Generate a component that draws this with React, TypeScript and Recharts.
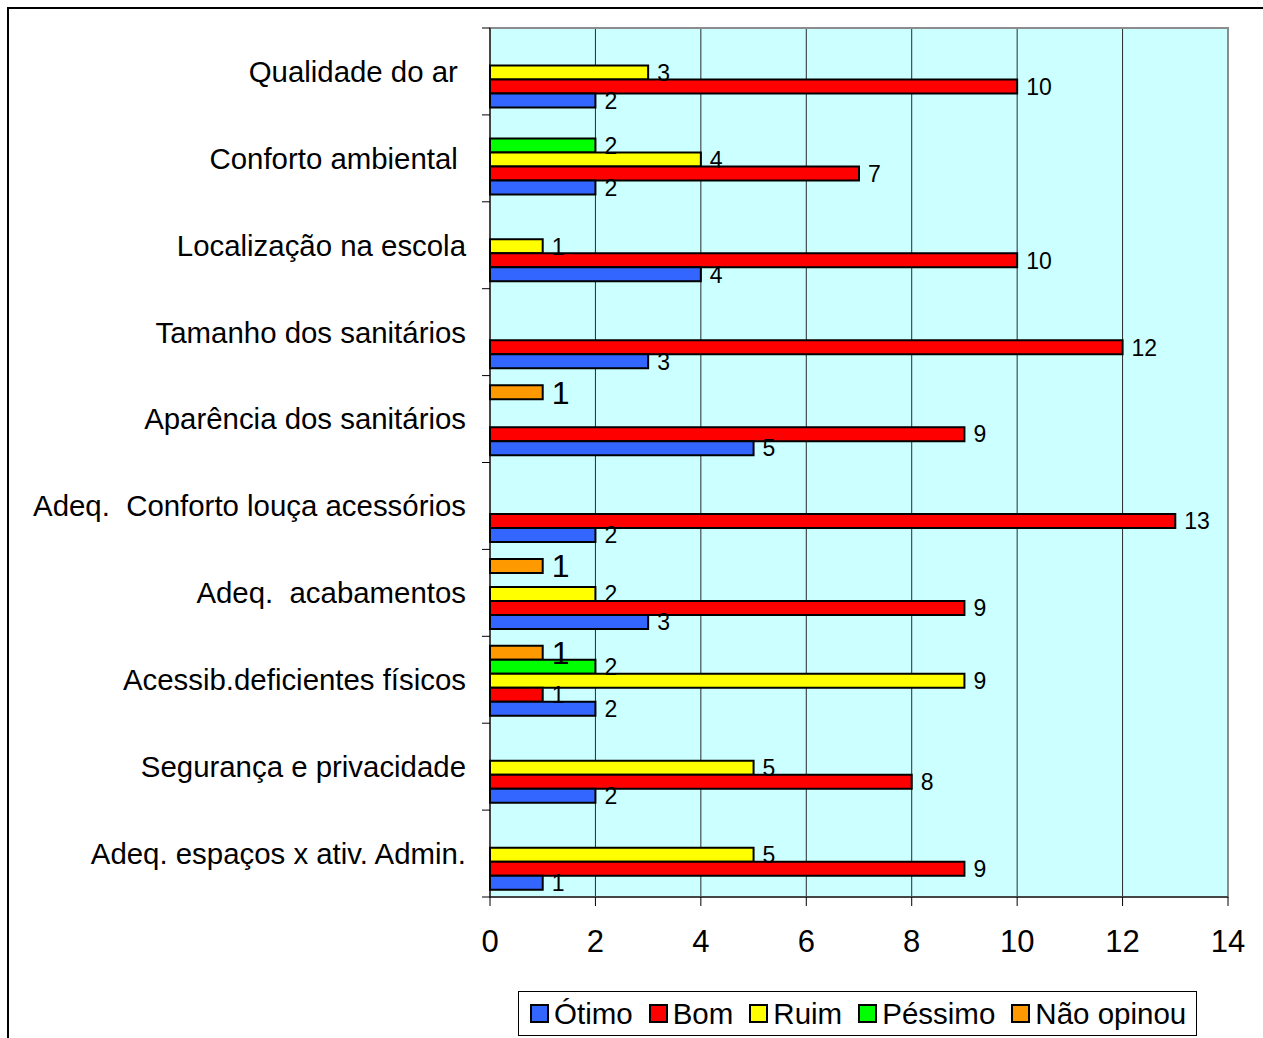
import {
  BarChart,
  Bar,
  XAxis,
  YAxis,
  CartesianGrid,
  LabelList,
  ReferenceArea,
} from 'recharts';

const CATEGORIES = [
  'Qualidade do ar\u00a0',
  'Conforto ambiental\u00a0',
  'Localização na escola',
  'Tamanho dos sanitários',
  'Aparência dos sanitários',
  'Adeq.\u00a0 Conforto louça acessórios',
  'Adeq.\u00a0 acabamentos',
  'Acessib.deficientes físicos',
  'Segurança e privacidade',
  'Adeq. espaços x ativ. Admin.',
];

const OTIMO = [2, 2, 4, 3, 5, 2, 3, 2, 2, 1];
const BOM = [10, 7, 10, 12, 9, 13, 9, 1, 8, 9];
const RUIM = [3, 4, 1, 0, 0, 0, 2, 9, 5, 5];
const PESSIMO = [0, 2, 0, 0, 0, 0, 0, 2, 0, 0];
const NAO_OPINOU = [0, 0, 0, 0, 1, 0, 1, 1, 0, 0];

const X_TICKS = [0, 2, 4, 6, 8, 10, 12, 14];

const SERIES = [
  { key: 'otimo', name: 'Ótimo', color: '#3366ff', values: OTIMO, labelSize: 23 },
  { key: 'bom', name: 'Bom', color: '#ff0000', values: BOM, labelSize: 23 },
  { key: 'ruim', name: 'Ruim', color: '#ffff00', values: RUIM, labelSize: 23 },
  { key: 'pessimo', name: 'Péssimo', color: '#00ff00', values: PESSIMO, labelSize: 23 },
  { key: 'nao', name: 'Não opinou', color: '#ff9900', values: NAO_OPINOU, labelSize: 32 },
];

const FONT = '"Liberation Sans", Arial, sans-serif';
const Y_TICK_SIZE = 8;
const Y_TICK_MARGIN = 16;

const data = CATEGORIES.map((name, i) => {
  const row: Record<string, string | number> = { name };
  SERIES.forEach((s) => {
    row[s.key] = s.values[i];
  });
  return row;
});

// Excel draws the first series at the bottom of each group
const barOrder = [...SERIES].reverse();

const makeLabel = (fontSize: number) => (props: any) => {
  const { x, y, width, height, value } = props;
  if (!value) return null;
  return (
    <text
      x={Number(x) + Number(width) + 9}
      y={Number(y) + Number(height) / 2}
      dy="0.36em"
      fontSize={fontSize}
      fontFamily={FONT}
      fill="#000"
    >
      {value}
    </text>
  );
};

// category label plus tick marks on the band edges instead of the band centre
const CategoryTick = (props: any) => {
  const { x, y, payload, index } = props;
  const half = Number(payload?.offset) || 0;
  const x1 = x + Y_TICK_MARGIN;
  const x2 = x1 + Y_TICK_SIZE;
  const isLast = index === CATEGORIES.length - 1;
  return (
    <g>
      <line x1={x1} x2={x2} y1={y - half} y2={y - half} stroke="#000" />
      {isLast && <line x1={x1} x2={x2} y1={y + half} y2={y + half} stroke="#000" />}
      <text
        x={x}
        y={y}
        dy="0.355em"
        textAnchor="end"
        fontSize={29.4}
        fontFamily={FONT}
        fill="#000"
        style={{ whiteSpace: 'pre' }}
      >
        {payload?.value}
      </text>
    </g>
  );
};

function LegendBox() {
  return (
    <div
      style={{
        position: 'absolute',
        left: 518,
        top: 991,
        height: 45,
        boxSizing: 'border-box',
        border: '1px solid #000',
        background: '#fff',
        display: 'flex',
        alignItems: 'center',
        padding: '0 10px 0 11px',
        fontFamily: FONT,
        fontSize: 29.5,
        color: '#000',
      }}
    >
      {SERIES.map((s, i) => (
        <div
          key={s.key}
          style={{ display: 'flex', alignItems: 'center', marginLeft: i === 0 ? 0 : 16 }}
        >
          <span
            style={{
              display: 'inline-block',
              width: 19,
              height: 19,
              boxSizing: 'border-box',
              border: '2px solid #000',
              background: s.color,
              marginRight: 5,
            }}
          />
          <span style={{ lineHeight: '32px' }}>{s.name}</span>
        </div>
      ))}
    </div>
  );
}

export default function App() {
  return (
    <div
      style={{
        position: 'absolute',
        left: 0,
        top: 0,
        width: 1263,
        height: 1038,
        background: '#fff',
        overflow: 'hidden',
      }}
    >
      <div
        style={{
          position: 'absolute',
          left: 7,
          top: 7,
          width: 1300,
          height: 1100,
          borderTop: '2px solid #000',
          borderLeft: '2px solid #000',
        }}
      />
      <div style={{ position: 'absolute', left: 0, top: 0 }}>
        <BarChart
          width={1263}
          height={1038}
          data={data}
          layout="vertical"
          margin={{ top: 28, right: 35, left: 8, bottom: 81 }}
          barCategoryGap="11%"
          barGap={0}
        >
          <CartesianGrid
            horizontal={false}
            vertical
            stroke="#2a2a2a"
            strokeWidth={1}
            fill="#ccffff"
            fillOpacity={1}
          />
          <ReferenceArea
            x1={0}
            x2={14}
            fill="none"
            stroke="#8c8c8c"
            strokeWidth={2}
            ifOverflow="visible"
          />
          <YAxis
            type="category"
            dataKey="name"
            width={482}
            interval={0}
            tickLine={false}
            tickSize={Y_TICK_SIZE}
            tickMargin={Y_TICK_MARGIN}
            axisLine={{ stroke: '#000', strokeWidth: 1 }}
            tick={CategoryTick}
          />
          <XAxis
            type="number"
            domain={[0, 14]}
            ticks={X_TICKS}
            interval={0}
            height={60}
            tickSize={9}
            tickMargin={24}
            axisLine={{ stroke: '#000', strokeWidth: 1 }}
            tickLine={{ stroke: '#000' }}
            tick={{ fontSize: 31, fontFamily: FONT, fill: '#000' }}
          />
          {barOrder.map((s) => (
            <Bar
              key={s.key}
              dataKey={s.key}
              name={s.name}
              fill={s.color}
              stroke="#000"
              strokeWidth={2}
              isAnimationActive={false}
            >
              <LabelList dataKey={s.key} content={makeLabel(s.labelSize)} />
            </Bar>
          ))}
        </BarChart>
      </div>
      <LegendBox />
    </div>
  );
}
